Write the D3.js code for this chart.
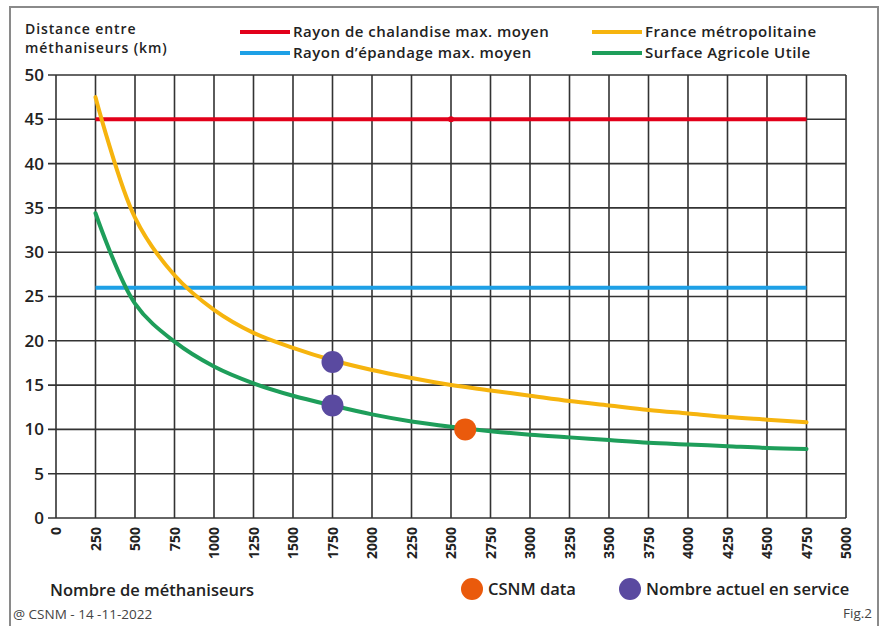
<!DOCTYPE html>
<html lang="fr">
<head>
<meta charset="utf-8">
<title>Distance entre méthaniseurs</title>
<script src="https://cdn.jsdelivr.net/npm/d3@7"></script>
<style>
  body { margin: 0; background: #fff; }
  text { font-family: "Open Sans", Lato, sans-serif; }
</style>
</head>
<body>
<script>
// valeurs
var nombres = [250, 500, 750, 1000, 1250, 1500, 1750, 2000, 2250, 2500, 2750, 3000, 3250, 3500, 3750, 4000, 4250, 4500, 4750];
var franceMetro = [47.5, 33.9, 27.4, 23.5, 20.9, 19.2, 17.8, 16.7, 15.8, 15.0, 14.4, 13.8, 13.2, 12.7, 12.2, 11.8, 11.4, 11.1, 10.8];
var surfaceAgricole = [34.4, 24.2, 19.9, 17.1, 15.2, 13.8, 12.7, 11.7, 10.9, 10.3, 9.8, 9.4, 9.1, 8.8, 8.5, 8.3, 8.1, 7.9, 7.8];
var rayonChalandise = [[250, 45], [2500, 45], [4750, 45]];
var rayonEpandage = [[250, 26], [4750, 26]];
var csnmData = [[2590, 10.0]];
var enService = [[1750, 17.6], [1750, 12.7]];
var xTicks = d3.range(0, 5001, 250);
var yTicks = d3.range(0, 51, 5);

var width = 885, height = 626;
var margin = {top: 75, bottom: 108, left: 56, right: 39};

var svg = d3.select("body").append("svg")
  .attr("width", width)
  .attr("height", height);

// cadre
svg.append("rect")
  .attr("x", 10).attr("y", 7)
  .attr("width", 868).attr("height", 640)
  .attr("fill", "none")
  .attr("stroke", "#8a8a8a")
  .attr("stroke-width", 2);

var xscale = d3.scaleLinear()
  .domain([0, 5000])
  .range([margin.left, width - margin.right]);

var yscale = d3.scaleLinear()
  .domain([0, 50])
  .range([height - margin.bottom, margin.top]);

var grid = svg.append("g");

grid.selectAll("line.v")
  .data(xTicks)
  .enter().append("line")
  .attr("class", "v")
  .attr("x1", function(d) { return xscale(d); })
  .attr("x2", function(d) { return xscale(d); })
  .attr("y1", yscale(0))
  .attr("y2", yscale(50))
  .attr("stroke", "#333")
  .attr("stroke-width", 1.6);

grid.selectAll("line.h")
  .data(yTicks)
  .enter().append("line")
  .attr("class", "h")
  .attr("x1", xscale(0) - 8)
  .attr("x2", xscale(5000))
  .attr("y1", function(d) { return yscale(d); })
  .attr("y2", function(d) { return yscale(d); })
  .attr("stroke", "#333")
  .attr("stroke-width", 1.6);

// axe y
var yAxis = d3.axisLeft(yscale).tickValues(yTicks).tickSize(0).tickPadding(12);
var gy = svg.append("g")
  .attr("transform", "translate(" + xscale(0) + ",0)")
  .call(yAxis);
gy.select(".domain").remove();
gy.selectAll("text")
  .attr("font-size", 17)
  .attr("font-weight", 600)
  .attr("fill", "#222")
  .attr("font-family", "'Open Sans', sans-serif");

// axe x, étiquettes verticales
var xAxis = d3.axisBottom(xscale).tickValues(xTicks).tickSize(0).tickFormat(d3.format("d"));
var gx = svg.append("g")
  .attr("transform", "translate(0," + yscale(0) + ")")
  .call(xAxis);
gx.select(".domain").remove();
gx.selectAll("text")
  .attr("transform", "rotate(-90)")
  .attr("text-anchor", "end")
  .attr("x", -9)
  .attr("y", 0)
  .attr("dy", "0.35em")
  .attr("font-size", 14)
  .attr("font-weight", 700)
  .attr("fill", "#222")
  .attr("font-family", "'Open Sans', sans-serif");

// courbes
var line = d3.line()
  .x(function(d) { return xscale(d[0]); })
  .y(function(d) { return yscale(d[1]); });

var curve = d3.line()
  .x(function(d) { return xscale(d[0]); })
  .y(function(d) { return yscale(d[1]); })
  .curve(d3.curveCatmullRom.alpha(0.5));

svg.append("path")
  .datum(rayonChalandise)
  .attr("d", line)
  .attr("fill", "none")
  .attr("stroke", "#e2001a")
  .attr("stroke-width", 4);

svg.append("circle")
  .attr("cx", xscale(rayonChalandise[1][0]))
  .attr("cy", yscale(rayonChalandise[1][1]))
  .attr("r", 3)
  .attr("fill", "#e2001a");

svg.append("path")
  .datum(rayonEpandage)
  .attr("d", line)
  .attr("fill", "none")
  .attr("stroke", "#1ea0e6")
  .attr("stroke-width", 4);

svg.append("path")
  .datum(nombres.map(function(n, i) { return [n, franceMetro[i]]; }))
  .attr("d", curve)
  .attr("fill", "none")
  .attr("stroke", "#f6b40e")
  .attr("stroke-width", 4)
  .attr("stroke-linecap", "round");

svg.append("path")
  .datum(nombres.map(function(n, i) { return [n, surfaceAgricole[i]]; }))
  .attr("d", curve)
  .attr("fill", "none")
  .attr("stroke", "#1e9e5a")
  .attr("stroke-width", 4)
  .attr("stroke-linecap", "round");

svg.selectAll("circle.service")
  .data(enService)
  .enter().append("circle")
  .attr("class", "service")
  .attr("cx", function(d) { return xscale(d[0]); })
  .attr("cy", function(d) { return yscale(d[1]); })
  .attr("r", 11)
  .attr("fill", "#5a4aa0");

svg.selectAll("circle.csnm")
  .data(csnmData)
  .enter().append("circle")
  .attr("class", "csnm")
  .attr("cx", function(d) { return xscale(d[0]); })
  .attr("cy", function(d) { return yscale(d[1]); })
  .attr("r", 11)
  .attr("fill", "#ea5a0c");

// titre de l'axe y
var titre = svg.append("text")
  .attr("x", 25).attr("y", 34)
  .attr("font-size", 14).attr("font-weight", 600)
  .attr("letter-spacing", 0.9).attr("fill", "#222");
titre.append("tspan").attr("x", 25).text("Distance entre");
titre.append("tspan").attr("x", 25).attr("dy", 19).text("méthaniseurs (km)");

// légende du haut
var legende = [
  {label: "Rayon de chalandise max. moyen", color: "#e2001a", x: 240, y: 32},
  {label: "Rayon d\u2019épandage max. moyen", color: "#1ea0e6", x: 240, y: 53},
  {label: "France métropolitaine", color: "#f6b40e", x: 592, y: 32},
  {label: "Surface Agricole Utile", color: "#1e9e5a", x: 592, y: 53}
];
var lg = svg.selectAll("g.legende")
  .data(legende)
  .enter().append("g")
  .attr("class", "legende")
  .attr("transform", function(d) { return "translate(" + d.x + "," + d.y + ")"; });
lg.append("line")
  .attr("x1", 0).attr("x2", 50)
  .attr("stroke", function(d) { return d.color; })
  .attr("stroke-width", 4);
lg.append("text")
  .attr("x", 53).attr("y", 5)
  .attr("font-size", 15).attr("font-weight", 600)
  .attr("letter-spacing", 0.5).attr("fill", "#222")
  .text(function(d) { return d.label; });

// bas de figure
svg.append("text")
  .attr("x", 50).attr("y", 596)
  .attr("font-size", 16.5).attr("font-weight", 600).attr("fill", "#222")
  .text("Nombre de méthaniseurs");

var pts = [
  {label: "CSNM data", color: "#ea5a0c", x: 472},
  {label: "Nombre actuel en service", color: "#5a4aa0", x: 630}
];
var pg = svg.selectAll("g.pts")
  .data(pts)
  .enter().append("g")
  .attr("transform", function(d) { return "translate(" + d.x + ",589)"; });
pg.append("circle").attr("r", 11).attr("fill", function(d) { return d.color; });
pg.append("text")
  .attr("x", 16).attr("y", 6)
  .attr("font-size", 16.5).attr("font-weight", 600).attr("fill", "#222")
  .text(function(d) { return d.label; });

svg.append("text")
  .attr("x", 13).attr("y", 619)
  .attr("font-family", "'Liberation Sans', Arial, sans-serif")
  .attr("font-size", 13.5).attr("fill", "#444")
  .text("@ CSNM - 14 -11-2022");

svg.append("text")
  .attr("x", 872).attr("y", 618)
  .attr("text-anchor", "end")
  .attr("font-family", "'Liberation Sans', Arial, sans-serif")
  .attr("font-size", 13.5).attr("fill", "#444")
  .text("Fig.2");
</script>
</body>
</html>
